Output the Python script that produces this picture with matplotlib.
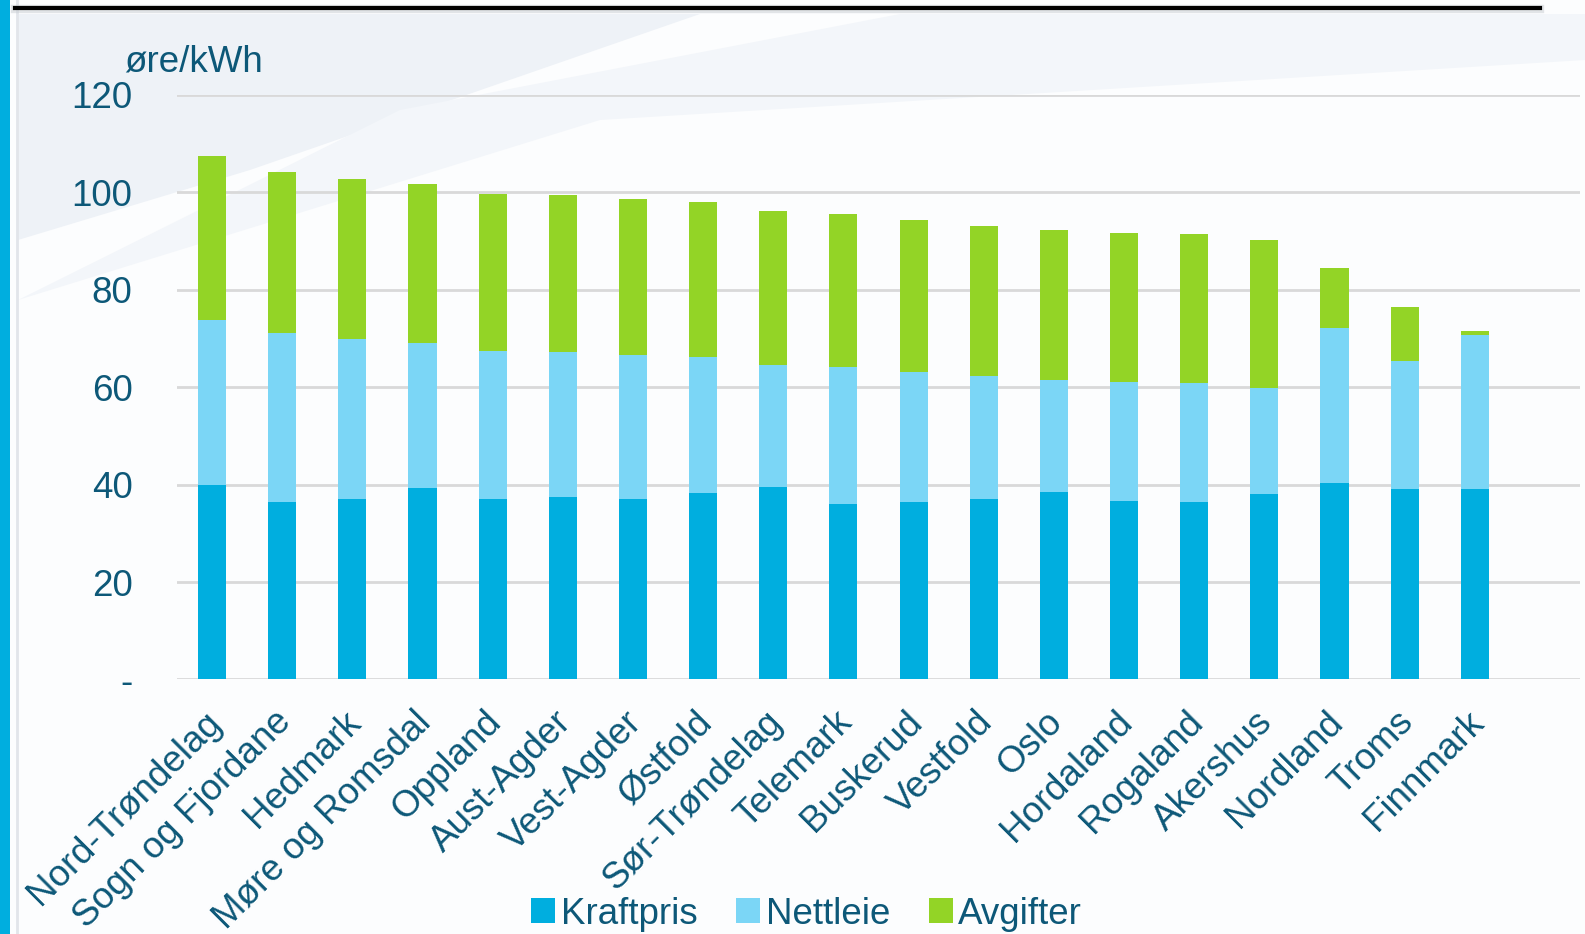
import numpy as np
import matplotlib
matplotlib.use("Agg")
import matplotlib.pyplot as plt
import matplotlib.transforms as mtrans
from matplotlib.patches import Rectangle, Polygon

plt.rcParams['font.family'] = ['Liberation Sans', 'DejaVu Sans']

# data
fylker = ["Nord-Trøndelag", "Sogn og Fjordane", "Hedmark", "Møre og Romsdal",
          "Oppland", "Aust-Agder", "Vest-Agder", "Østfold", "Sør-Trøndelag",
          "Telemark", "Buskerud", "Vestfold", "Oslo", "Hordaland", "Rogaland",
          "Akershus", "Nordland", "Troms", "Finnmark"]
kraftpris = [40.0, 36.5, 37.1, 39.4, 37.1, 37.5, 37.0, 38.3, 39.6, 36.0,
             36.5, 37.1, 38.5, 36.7, 36.4, 38.1, 40.4, 39.1, 39.0]
nettleie = [33.7, 34.6, 32.8, 29.7, 30.4, 29.7, 29.6, 27.8, 25.0, 28.1,
            26.6, 25.1, 23.0, 24.3, 24.5, 21.8, 31.8, 26.3, 31.7]
avgifter = [33.8, 33.1, 32.8, 32.7, 32.2, 32.2, 32.0, 31.9, 31.5, 31.4,
            31.2, 31.0, 30.7, 30.6, 30.5, 30.3, 12.2, 11.0, 0.8]
yticks = [0, 20, 40, 60, 80, 100, 120]
ytick_labels = ["-", "20", "40", "60", "80", "100", "120"]

txt = "#0d5878"
c_kraft = "#00aedf"
c_nett = "#7bd6f6"
c_avg = "#93d426"
fs = 26.5

fig = plt.figure(figsize=(15.85, 9.34), dpi=100)
fig.patch.set_facecolor("#fcfdfe")

# background: faint diagonal shapes, blue strip, top rule
bg = fig.add_axes([0, 0, 1, 1], zorder=-10)
bg.set_xlim(0, 1585)
bg.set_ylim(934, 0)
bg.axis("off")
bg.add_patch(Polygon([[18, 240], [18, 14], [700, 14], [250, 170]], closed=True,
                     facecolor="#eef2f7", edgecolor="none"))
bg.add_patch(Polygon([[18, 300], [400, 110], [900, 14], [1585, 14], [1585, 60], [600, 120]],
                     closed=True, facecolor="#f3f6fa", edgecolor="none"))
bg.add_patch(Rectangle((0, 0), 10, 934, facecolor="#00aedf", edgecolor="none"))
bg.plot([17, 17], [0, 934], color="#e2e5ea", lw=2)
bg.plot([15, 1540], [9, 9], color="#c8ccd2", lw=6, alpha=0.5)
bg.plot([15, 1540], [8, 8], color="black", lw=3)

ax = fig.add_axes([177 / 1585, 1 - 679.4 / 934, (1580 - 177) / 1585, (679.4 - 95) / 934])
ax.patch.set_alpha(0)

x = np.arange(len(fylker))
w = 0.4
b1 = ax.bar(x, kraftpris, w, color=c_kraft, label="Kraftpris", zorder=3)
b2 = ax.bar(x, nettleie, w, bottom=kraftpris, color=c_nett, label="Nettleie", zorder=3)
bot = np.array(kraftpris) + np.array(nettleie)
b3 = ax.bar(x, avgifter, w, bottom=bot, color=c_avg, label="Avgifter", zorder=3)

ax.set_xlim(-0.5, len(fylker) + 0.5)
ax.set_ylim(0, 120)
ax.set_yticks(yticks)
ax.set_yticklabels(ytick_labels)
ax.yaxis.grid(True, color="#d9d9d9", lw=2)
ax.set_axisbelow(True)
for s in ax.spines.values():
    s.set_visible(False)
ax.tick_params(axis="y", length=0, pad=32, labelsize=fs, labelcolor=txt)
ax.tick_params(axis="x", length=0, pad=8, labelsize=fs, labelcolor=txt)
ax.set_xticks(x)
ax.set_xticklabels(fylker, rotation=45, ha="right", rotation_mode="anchor")
shift = mtrans.ScaledTranslation(-9 / 100, -14 / 100, fig.dpi_scale_trans)
for lab in ax.get_xticklabels():
    lab.set_transform(lab.get_transform() + shift)

fig.text(124 / 1585, 1 - 62 / 934, "øre/kWh", fontsize=fs, color=txt, va="center", ha="left")

fig.legend(handles=[b1, b2, b3], loc="center", bbox_to_anchor=(0.509, 1 - 914 / 934),
           ncol=3, frameon=False, fontsize=fs, handlelength=0.65, handleheight=0.65,
           handletextpad=0.15, columnspacing=1.05, labelcolor=txt)

fig.savefig("out.png", dpi=100, facecolor=fig.get_facecolor())
